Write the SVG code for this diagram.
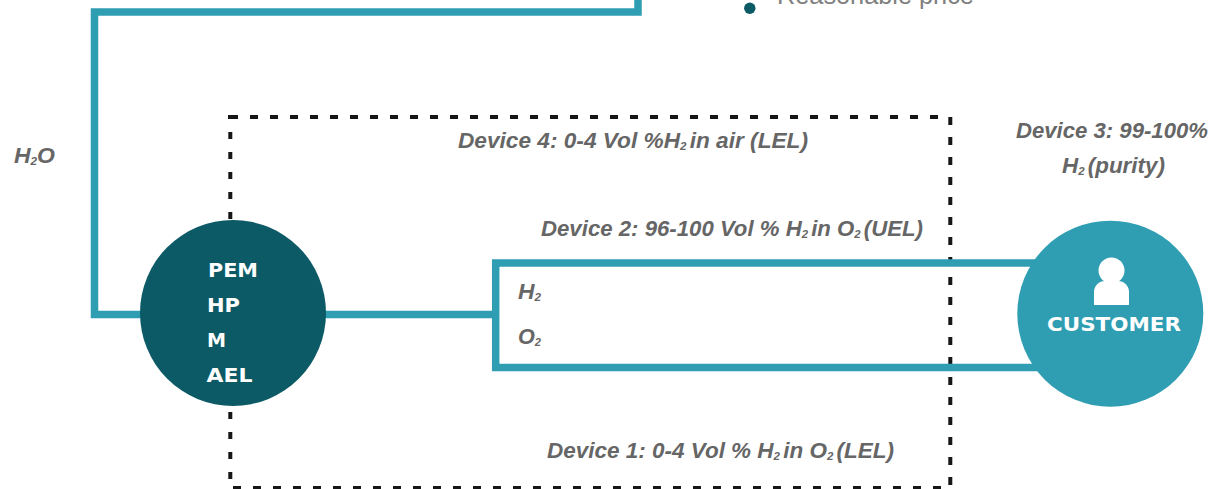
<svg xmlns="http://www.w3.org/2000/svg" width="1211" height="489" viewBox="0 0 1211 489">
<style>
.pipe{fill:none;stroke:#2f9db2;stroke-width:7.5;stroke-linecap:butt;stroke-linejoin:miter}
.dash{fill:none;stroke:#161616;stroke-width:4;stroke-dasharray:8 12}
.lab{font-family:"Liberation Sans",Arial,sans-serif;font-weight:700;font-style:italic;font-size:21.5px;fill:#666}
.sub{font-size:11px}
.nt{font-family:"DejaVu Sans",sans-serif;font-weight:700;font-size:20px;fill:#fff}
</style>
<rect width="1211" height="489" fill="#fff"/>
<g id="connectors">
<path d="M228 117H238" fill="none" stroke="#161616" stroke-width="4"/>
<path class="dash" d="M250 117H940"/>
<path class="dash" d="M950.300 117V486"/>
<path class="dash" d="M233 488H945"/>
<path class="dash" style="stroke-dasharray:7 13" d="M230.300 132V480"/>
<path class="pipe" d="M638 0V12H94.500V314.500H145"/>
<path class="pipe" d="M320 314.500H495.700"/>
<path class="pipe" d="M1040 263H495.700V367.500H1040"/>
</g>
<g id="bullet"><circle cx="749.800" cy="8.300" r="5.700" fill="#0c5a66"/>
<text x="777" y="4" font-family="Liberation Sans,Arial,sans-serif" font-size="25.300" fill="#808080">Reasonable price</text></g>
<g id="node-electrolyser"><circle cx="233" cy="313" r="93" fill="#0c5a66"/>
<text class="nt" x="208" y="277" textLength="50" lengthAdjust="spacingAndGlyphs">PEM</text>
<text class="nt" x="207" y="312" textLength="33" lengthAdjust="spacingAndGlyphs">HP</text>
<text class="nt" x="207" y="347" textLength="19" lengthAdjust="spacingAndGlyphs">M</text>
<text class="nt" x="206.500" y="382" textLength="46" lengthAdjust="spacingAndGlyphs">AEL</text></g>
<g id="node-customer"><circle cx="1110.300" cy="313.700" r="93" fill="#2f9db2"/>
<circle cx="1111.500" cy="270.500" r="13" fill="#fff"/>
<path d="M1094 305V292a11 11 0 0 1 11-11h13a11 11 0 0 1 11 11v13z" fill="#fff"/>
<text class="nt" x="1047" y="331" textLength="134" lengthAdjust="spacingAndGlyphs">CUSTOMER</text></g>
<g id="labels">
<text class="lab" x="14" y="163" textLength="41" lengthAdjust="spacingAndGlyphs">H<tspan class="sub" dy="2">2</tspan><tspan dy="-2">O</tspan></text>
<text class="lab" x="458" y="148" textLength="350" lengthAdjust="spacingAndGlyphs">Device 4: 0-4 Vol %H<tspan class="sub" dy="2">2 </tspan><tspan dy="-2">in air (LEL)</tspan></text>
<text class="lab" x="1016" y="138" textLength="192" lengthAdjust="spacingAndGlyphs">Device 3: 99-100%</text>
<text class="lab" x="1062" y="173" textLength="103" lengthAdjust="spacingAndGlyphs">H<tspan class="sub" dy="2">2 </tspan><tspan dy="-2">(purity)</tspan></text>
<text class="lab" x="541" y="236" textLength="382" lengthAdjust="spacingAndGlyphs">Device 2: 96-100 Vol % H<tspan class="sub" dy="2">2 </tspan><tspan dy="-2">in O</tspan><tspan class="sub" dy="2">2 </tspan><tspan dy="-2">(UEL)</tspan></text>
<text class="lab" x="518" y="299" textLength="23" lengthAdjust="spacingAndGlyphs">H<tspan class="sub" dy="2">2</tspan></text>
<text class="lab" x="518" y="344" textLength="23" lengthAdjust="spacingAndGlyphs">O<tspan class="sub" dy="2">2</tspan></text>
<text class="lab" x="547" y="458" textLength="347" lengthAdjust="spacingAndGlyphs">Device 1: 0-4 Vol % H<tspan class="sub" dy="2">2 </tspan><tspan dy="-2">in O</tspan><tspan class="sub" dy="2">2 </tspan><tspan dy="-2">(LEL)</tspan></text>
</g>
</svg>
